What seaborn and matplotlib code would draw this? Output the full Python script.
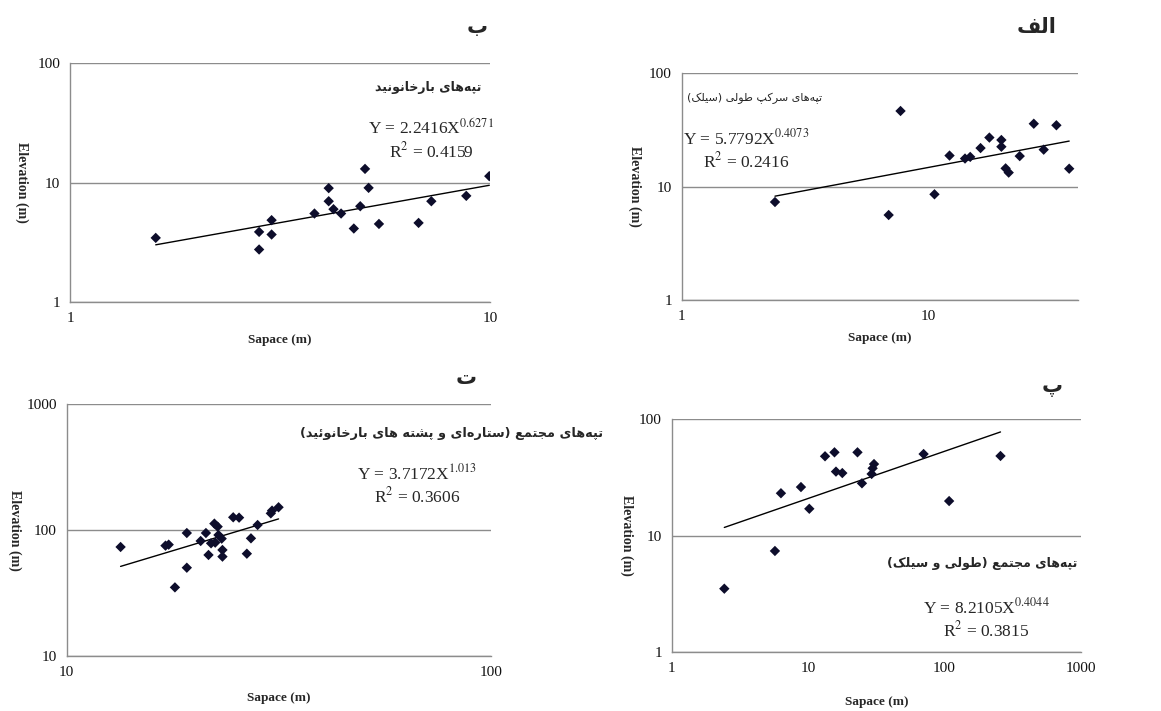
import numpy as np
import pandas as pd
import seaborn as sns
import matplotlib.pyplot as plt
from matplotlib.ticker import NullLocator, FuncFormatter

# ---- data ----
# الف : longitudinal (silk) dunes
alef_x = [2.39, 6.91, 7.72, 10.6, 12.2, 14.1, 14.8, 16.3, 17.7, 19.8, 19.8, 20.6, 21.2, 23.5, 26.8, 29.4, 33.1, 37.3]
alef_y = [7.32, 5.62, 46.5, 8.56, 18.8, 17.7, 18.3, 21.9, 27.1, 25.8, 22.5, 14.5, 13.3, 18.6, 35.9, 21.2, 34.8, 14.4]
alef_fit = (5.7792, 0.4073, 0.2416)

# ب : barchanoid dunes
be_x = [1.60, 2.82, 2.82, 3.02, 3.02, 3.82, 4.13, 4.13, 4.24, 4.42, 4.74, 4.91, 5.04, 5.14, 5.44, 6.76, 7.25, 8.78, 9.96]
be_y = [3.44, 3.86, 2.75, 4.84, 3.67, 5.50, 8.97, 6.97, 5.98, 5.50, 4.12, 6.33, 13.0, 9.02, 4.50, 4.59, 6.97, 7.73, 11.3]
be_fit = (2.2416, 0.6271, 0.4159)

# پ : complex (longitudinal and silk) dunes
pe_x = [2.43, 5.71, 6.32, 8.86, 10.2, 13.3, 15.6, 16.0, 17.8, 23.0, 24.8, 29.2, 29.7, 30.4, 70.2, 108, 257]
pe_y = [3.51, 7.39, 23.1, 26.1, 17.0, 47.9, 51.8, 35.4, 34.4, 51.8, 28.1, 33.8, 37.8, 41.1, 50.1, 19.8, 48.2]
pe_fit = (8.2105, 0.4044, 0.3815)

# ت : complex (star and barchanoid ridges) dunes
te_x = [13.4, 17.1, 17.4, 18.0, 19.2, 19.2, 20.7, 21.3, 21.6, 21.9, 22.3, 22.4, 22.7, 22.8, 23.2, 23.3, 23.3,
        24.7, 25.5, 26.6, 27.2, 28.2, 30.3, 30.5, 31.6]
te_y = [73.5, 75.3, 76.7, 35.1, 94.9, 50.3, 82.0, 94.9, 63.5, 78.6, 112.7, 79.6, 106.6, 91.5, 85.6, 69.6, 61.6,
        126.5, 125.7, 65.0, 86.1, 109.9, 136, 143, 152]
te_fit = (3.7172, 1.013, 0.3606)

alef_label = "تپه\u200cهای سرکپ طولی (سیلک)"
be_label = "تپه\u200cهای بارخانونید"
pe_label = "تپه\u200cهای مجتمع (طولی و سیلک)"
te_label = "تپه\u200cهای مجتمع (ستاره\u200cای و پشته های بارخانوئید)"

# ---- minimal arabic shaping (no reshaper lib available) ----
FORMS = {
    'ا': '\uFE8D\uFE8E', 'د': '\uFEA9\uFEAA', 'ر': '\uFEAD\uFEAE', 'و': '\uFEED\uFEEE',
    'ب': '\uFE8F\uFE90\uFE91\uFE92', 'پ': '\uFB56\uFB57\uFB58\uFB59', 'ت': '\uFE95\uFE96\uFE97\uFE98',
    'ج': '\uFE9D\uFE9E\uFE9F\uFEA0', 'خ': '\uFEA5\uFEA6\uFEA7\uFEA8', 'س': '\uFEB1\uFEB2\uFEB3\uFEB4',
    'ش': '\uFEB5\uFEB6\uFEB7\uFEB8', 'ط': '\uFEC1\uFEC2\uFEC3\uFEC4', 'ع': '\uFEC9\uFECA\uFECB\uFECC',
    'ف': '\uFED1\uFED2\uFED3\uFED4', 'ک': '\uFB8E\uFB8F\uFB90\uFB91', 'ل': '\uFEDD\uFEDE\uFEDF\uFEE0',
    'م': '\uFEE1\uFEE2\uFEE3\uFEE4', 'ن': '\uFEE5\uFEE6\uFEE7\uFEE8', 'ه': '\uFEE9\uFEEA\uFEEB\uFEEC',
    'ی': '\uFBFC\uFBFD\uFBFE\uFBFF', 'ئ': '\uFE89\uFE8A\uFE8B\uFE8C',
}


def fa(text):
    out = []
    for i, c in enumerate(text):
        if c not in FORMS:
            out.append(c)
            continue
        prev = text[i - 1] if i > 0 else ''
        nxt = text[i + 1] if i + 1 < len(text) else ''
        jp = prev in FORMS and len(FORMS[prev]) == 4
        jn = len(FORMS[c]) == 4 and nxt in FORMS
        k = 3 if (jp and jn) else 1 if jp else 2 if jn else 0
        out.append(FORMS[c][k])
    s = ''.join(out).replace('\u200c', '')
    return s[::-1].translate(str.maketrans('()', ')('))


sns.set_style("white")
plt.rcParams['font.family'] = ['Liberation Serif', 'DejaVu Serif']
plt.rcParams['mathtext.fontset'] = 'stix'

W, H = 1161, 711
fig = plt.figure(figsize=(W / 100, H / 100), dpi=100)
GRAY = '#8c8c8c'


def px(x0, y0, x1, y1):
    return [x0 / W, 1 - y1 / H, (x1 - x0) / W, (y1 - y0) / H]


def panel(rect, x, y, fit, xlim, ylim, xlab_y, ylab_x):
    ax = fig.add_axes(rect)
    df = pd.DataFrame({'x': x, 'y': y})
    sns.scatterplot(data=df, x='x', y='y', marker='D', s=28, color='#0d0d2b', edgecolor='none', ax=ax, zorder=3)
    a, b, r2 = fit
    fx = np.array([min(x), max(x)])
    sns.lineplot(x=fx, y=a * fx ** b, color='black', lw=1, ax=ax, zorder=2)
    ax.set_xscale('log')
    ax.set_yscale('log')
    ax.set_xlim(xlim)
    ax.set_ylim(ylim)
    xt = [10 ** k for k in range(int(np.log10(xlim[0])), int(np.floor(np.log10(xlim[1]))) + 1)]
    yt = [10 ** k for k in range(int(np.log10(ylim[0])), int(np.log10(ylim[1])) + 1)]
    ax.set_xticks(xt)
    ax.set_yticks(yt)
    ax.xaxis.set_minor_locator(NullLocator())
    ax.yaxis.set_minor_locator(NullLocator())
    fmt = FuncFormatter(lambda v, p: f'{v:g}')
    ax.xaxis.set_major_formatter(fmt)
    ax.yaxis.set_major_formatter(fmt)
    ax.yaxis.grid(True, color=GRAY, lw=1)
    ax.xaxis.grid(False)
    for s in ['top', 'right']:
        ax.spines[s].set_visible(False)
    for s in ['left', 'bottom']:
        ax.spines[s].set_color(GRAY)
        ax.spines[s].set_linewidth(1)
    ax.tick_params(direction='out', length=4, width=1, color=GRAY, labelsize=11, pad=3, labelcolor='#111111')
    ax.set_xlabel('Sapace (m)', fontsize=9.5, fontweight='bold', va='center')
    ax.set_ylabel('Elevation (m)', fontsize=10, fontweight='bold', rotation=270, va='center')
    ax.xaxis.set_label_coords(0.5, xlab_y)
    ax.yaxis.set_label_coords(ylab_x, 0.5)
    return ax


panel(px(70, 63, 490, 302), be_x, be_y, be_fit, (1, 10), (1, 100), -0.159, -0.114)
panel(px(681.7, 73.3, 1078, 300), alef_x, alef_y, alef_fit, (1, 40.5), (1, 100), -0.168, -0.118)
panel(px(66.7, 404.3, 490.7, 656), te_x, te_y, te_fit, (10, 100), (10, 1000), -0.167, -0.122)
panel(px(671.7, 419, 1081, 652.3), pe_x, pe_y, pe_fit, (1, 1000), (1, 100), -0.213, -0.109)


def ftext(x, y, s, **kw):
    fig.text(x / W, 1 - y / H, s, **kw)


def equation(cx, cy, fit, exp_txt=None):
    a, b, r2 = fit
    e = exp_txt or f"{b:g}"
    ftext(cx, cy, f"Y = {a:.4f}X$^{{{e}}}$", ha='center', va='center', fontsize=12.5)
    ftext(cx, cy + 23, f"R$^{{2}}$ = {r2:.4f}", ha='center', va='center', fontsize=12.5)


ar = ['DejaVu Sans']
# panel letters
ftext(488, 27, fa('ب'), ha='right', va='center', fontsize=15, fontweight='bold', family=ar)
ftext(1057, 27, fa('الف'), ha='right', va='center', fontsize=15, fontweight='bold', family=ar)
ftext(477, 378, fa('ت'), ha='right', va='center', fontsize=15, fontweight='bold', family=ar)
ftext(1063, 387, fa('پ'), ha='right', va='center', fontsize=15, fontweight='bold', family=ar)

# group labels
ftext(481, 88, fa(be_label), ha='right', va='center', fontsize=9, fontweight='bold', family=ar)
ftext(822, 98, fa(alef_label), ha='right', va='center', fontsize=8, family=ar)
ftext(603, 433, fa(te_label), ha='right', va='center', fontsize=9.3, fontweight='bold', family=ar)
ftext(1077, 563, fa(pe_label), ha='right', va='center', fontsize=9, fontweight='bold', family=ar)

equation(431, 128, be_fit)
equation(746, 138, alef_fit)
equation(417, 473, te_fit, "1.013")
equation(986, 607, pe_fit)

fig.savefig('out.png', dpi=100)
